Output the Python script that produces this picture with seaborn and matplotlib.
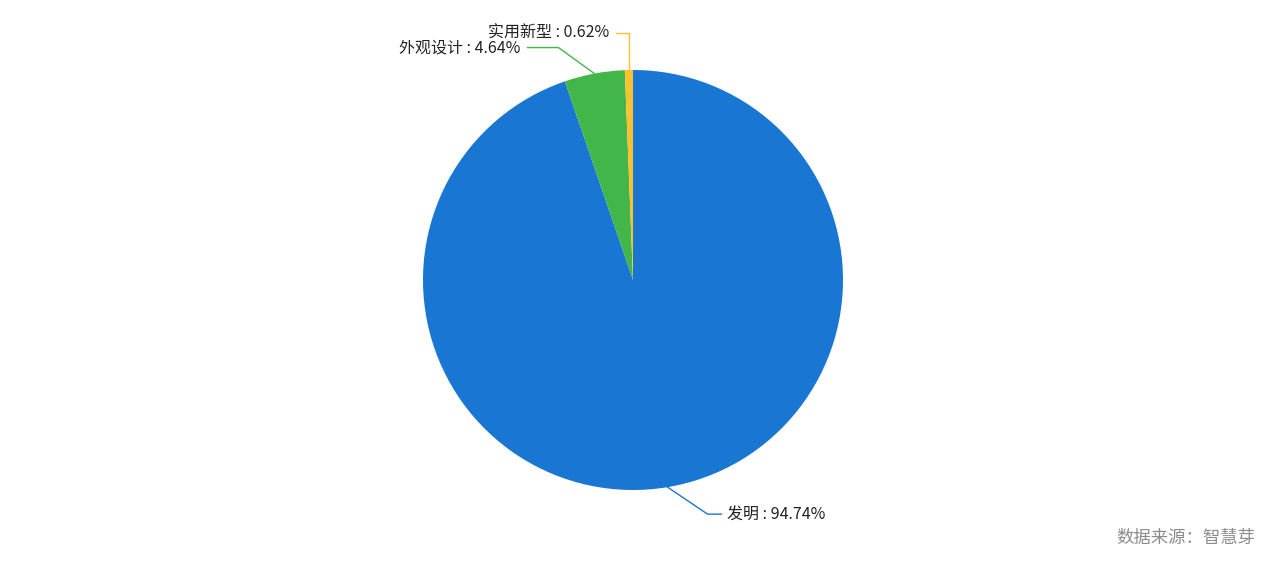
import numpy as np
import matplotlib
matplotlib.use("Agg")
import matplotlib.pyplot as plt
import seaborn as sns

# data
categories = ["发明", "外观设计", "实用新型"]
shares = [94.74, 4.64, 0.62]
colors = ["#1976d2", "#43b649", "#fbc02d"]
source_note = "数据来源：智慧芽"

sns.set_theme(style="white")
plt.rcParams['font.family'] = ['Noto Sans CJK SC', 'DejaVu Sans']

W, H = 1266, 561
fig = plt.figure(figsize=(W / 100, H / 100), dpi=100)
ax = fig.add_axes([0, 0, 1, 1])

cx, cy, r = 633, H - 280, 210
wedges, _ = ax.pie(shares, colors=colors, startangle=90, counterclock=False,
                   center=(cx, cy), radius=r, frame=True,
                   wedgeprops=dict(linewidth=0))
ax.set_xlim(0, W)
ax.set_ylim(0, H)
ax.set_aspect('equal')
ax.axis('off')

# label layout (elbow offset, horizontal run) per slice, in pixels
layout = {
    "发明": ((40, -27), 14),
    "外观设计": ((-36, 26), -31),
    "实用新型": ((0, 37), -13),
}

for w, name, val, col in zip(wedges, categories, shares, colors):
    ang = np.deg2rad((w.theta1 + w.theta2) / 2)
    ax_, ay_ = cx + r * np.cos(ang), cy + r * np.sin(ang)
    (dx, dy), run = layout[name]
    ex, ey = ax_ + dx, ay_ + dy
    tx = ex + run
    ax.plot([ax_, ex, tx], [ay_, ey, ey], color=col, lw=1)
    ha = 'left' if run > 0 else 'right'
    ax.text(tx + (5 if run > 0 else -7), ey, f"{name} : {val:.2f}%",
            ha=ha, va='center', fontsize=11.5, color='#222222')

ax.text(1255, H - 538, source_note, ha='right', va='center',
        fontsize=12.5, color='#8c8c8c')

fig.savefig("out.png", dpi=100)
